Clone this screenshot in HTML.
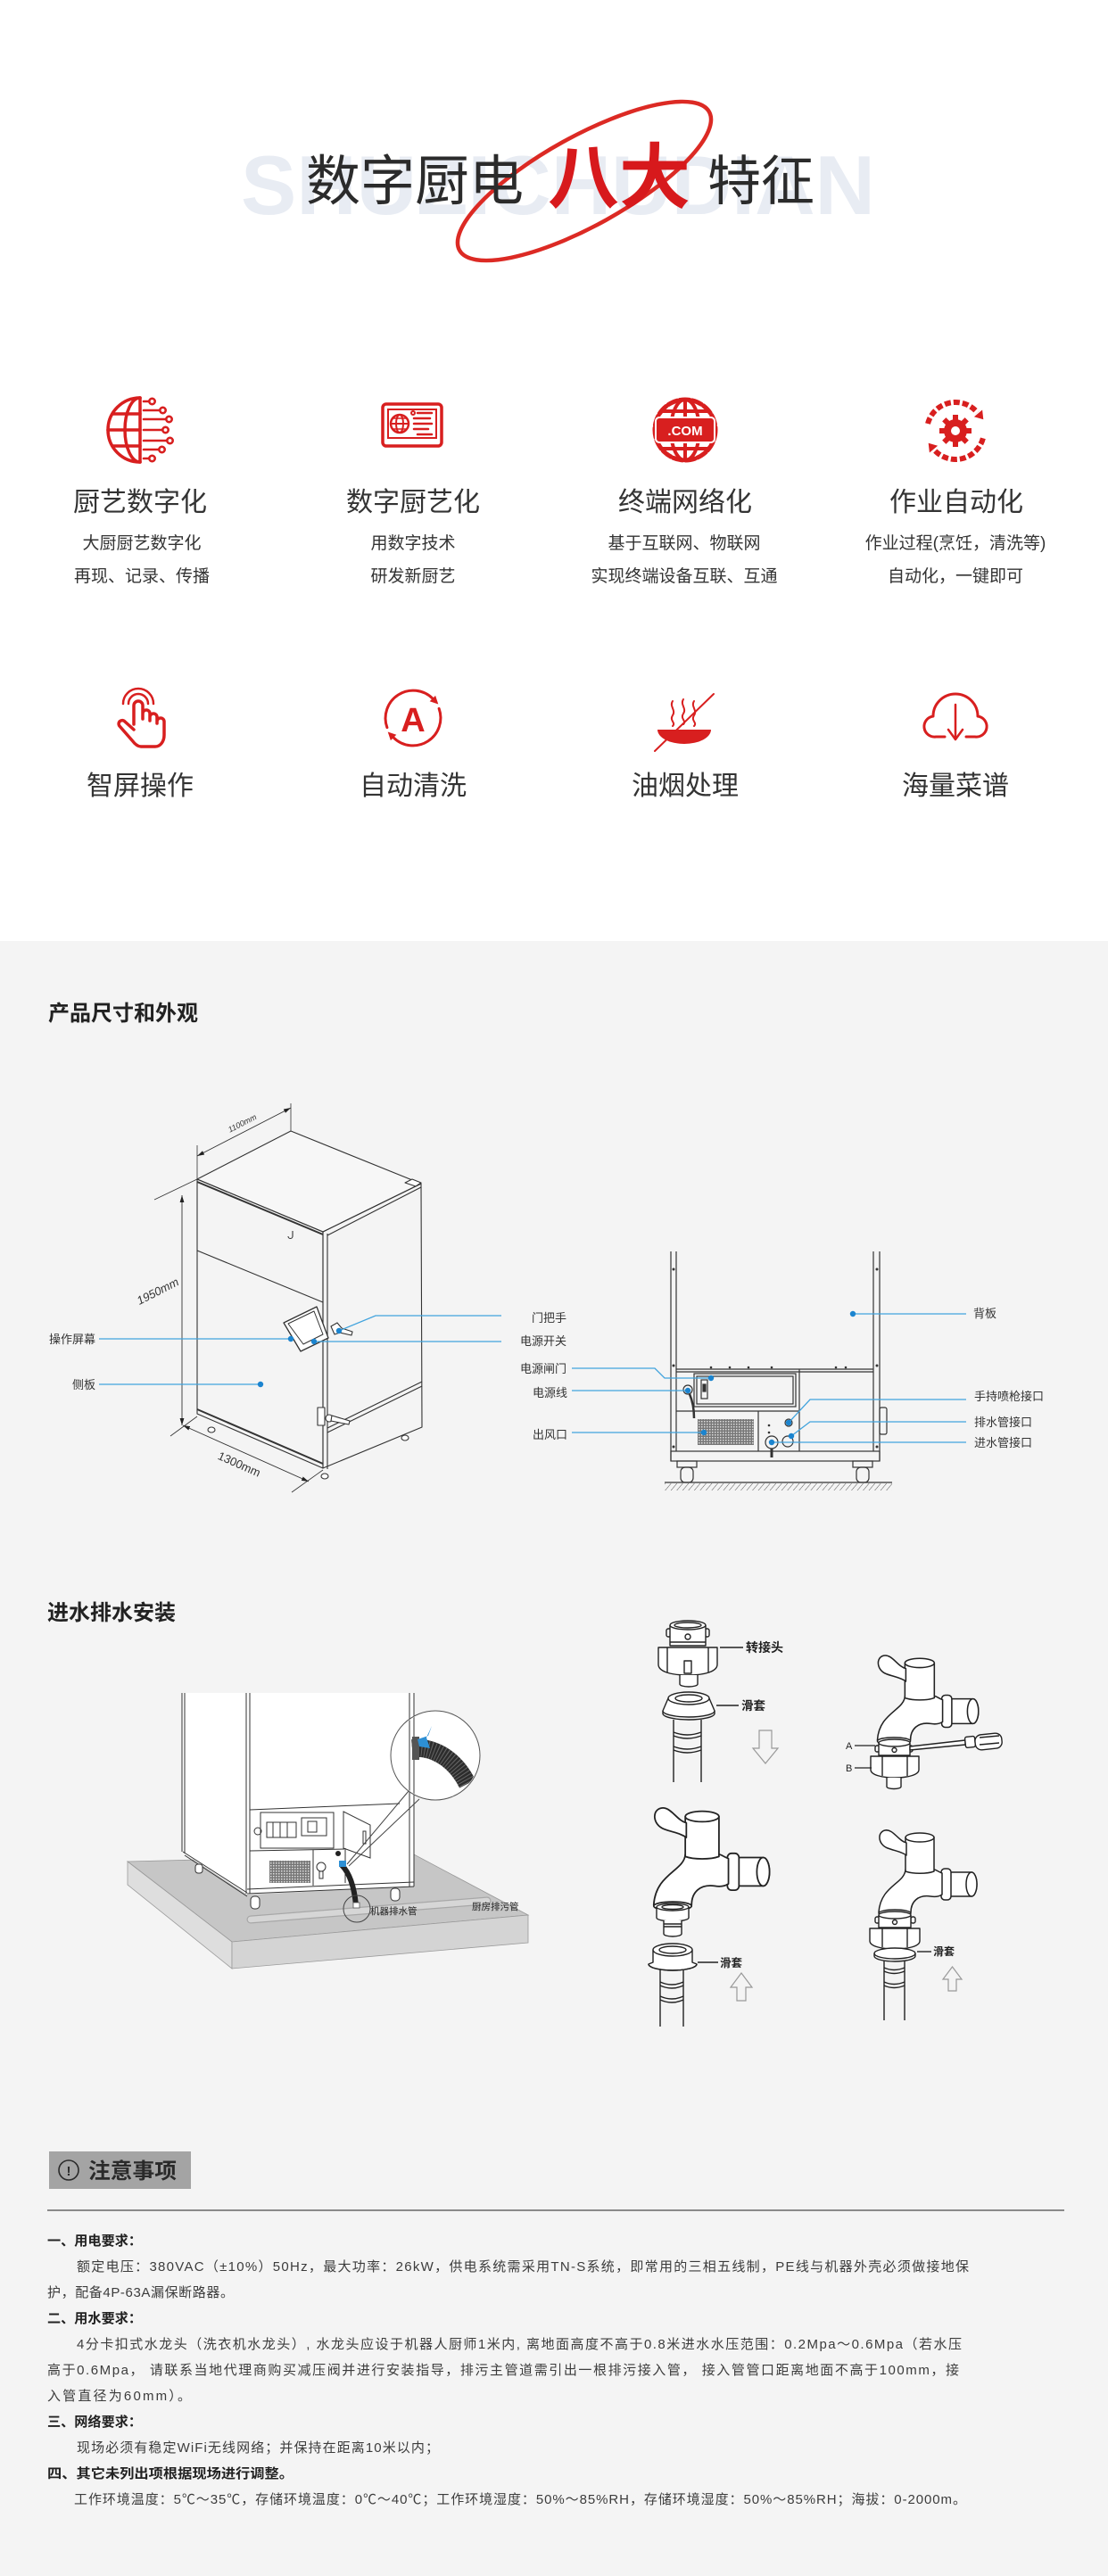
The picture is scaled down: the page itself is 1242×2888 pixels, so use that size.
<!DOCTYPE html>
<html><head><meta charset="utf-8">
<style>
html,body{margin:0;padding:0;}
body{width:1242px;height:2888px;position:relative;overflow:hidden;background:#f4f4f4;}
svg{position:absolute;left:0;top:0;display:block;}
</style></head><body>
<svg width="1242" height="2888" viewBox="0 0 1242 2888" font-family="'Liberation Sans','Noto Sans CJK SC',sans-serif">
<defs>
<marker id="ar" viewBox="0 0 10 10" refX="10" refY="5" markerWidth="8" markerHeight="8" orient="auto-start-reverse" markerUnits="userSpaceOnUse"><path d="M0,2 L10,5 L0,8 Z" fill="#222"/></marker>
<pattern id="hatch" width="5" height="5" patternUnits="userSpaceOnUse" patternTransform="rotate(40)"><line x1="0" y1="0" x2="0" y2="5" stroke="#555" stroke-width="1"/></pattern>
<pattern id="grid" width="3" height="3" patternUnits="userSpaceOnUse"><rect width="3" height="3" fill="#777"/><rect width="1.5" height="1.5" fill="#ddd"/></pattern>
<clipPath id="cc"><circle cx="488" cy="1968" r="49"/></clipPath>
<g id="fau" fill="#fff" stroke="#222" stroke-width="1.5" stroke-linejoin="round" stroke-linecap="round">
  <path d="M62,-47 H86 A6,13.5 0 0 1 86,-20 H62 Z"/>
  <ellipse cx="86" cy="-33.5" rx="6" ry="13.5"/>
  <rect x="52" y="-51" width="11" height="35" rx="4"/>
  <path d="M12,-50 C11,-34 -16,-32 -18,-2 L18,-2 C18,-14 26,-22 40,-20 C46,-19 50,-20 53,-22 L53,-46 C48,-48 46,-50 44,-50 Z"/>
  <path d="M12,-86 V-48 C20,-45 36,-45 44,-48 V-86 Z"/>
  <ellipse cx="28" cy="-86" rx="16" ry="5"/>
  <path d="M13,-80 C4,-82 -2,-96 -11,-94 C-20,-92 -19,-78 -8,-74 C0,-71 8,-70 13,-66 Z"/>
  <ellipse cx="0" cy="-1" rx="18" ry="4"/>
</g>
</defs>

<!-- backgrounds -->
<rect x="0" y="0" width="1242" height="1055" fill="#ffffff"/>
<rect x="0" y="1055" width="1242" height="1833" fill="#f4f4f4"/>

<!-- ===== TITLE ===== -->
<text x="270" y="240" font-family="'Liberation Sans',sans-serif" font-weight="bold" font-size="94" fill="#e8ecf3" textLength="711" lengthAdjust="spacingAndGlyphs">SHUZICHUDIAN</text>
<ellipse cx="655" cy="203" rx="160" ry="50" transform="rotate(-29 655 203)" fill="none" stroke="#dc2a24" stroke-width="4.5"/>
<text x="343" y="224" font-size="61" fill="#2b2b2b">数字厨电</text>
<text x="614" y="227" font-size="80" font-weight="bold" fill="#d7191c">八大</text>
<text x="793" y="224" font-size="60" fill="#2b2b2b">特征</text>

<!-- ===== ICON ROW 1 ===== -->
<g stroke="#d81f1f" fill="none" stroke-width="3.5" stroke-linecap="round">
  <!-- icon1 -->
  <path d="M157,446 A36,36 0 0 0 157,518"/>
  <path d="M157,446 A17,36 0 0 0 157,518"/>
  <line x1="157" y1="446" x2="157" y2="518"/>
  <line x1="127" y1="464" x2="157" y2="464"/>
  <line x1="121" y1="482" x2="157" y2="482"/>
  <line x1="127" y1="500" x2="157" y2="500"/>
  <g stroke-width="2.6">
    <line x1="161" y1="450" x2="167" y2="450"/><circle cx="170.5" cy="450" r="3.2"/>
    <line x1="161" y1="460" x2="179" y2="460"/><circle cx="182.5" cy="460" r="3.2"/>
    <line x1="161" y1="470" x2="186" y2="470"/><circle cx="189.5" cy="470" r="3.2"/>
    <line x1="161" y1="482" x2="182" y2="482"/><circle cx="185.5" cy="482" r="3.2"/>
    <line x1="161" y1="494" x2="187" y2="494"/><circle cx="190.5" cy="494" r="3.2"/>
    <line x1="161" y1="504" x2="178" y2="504"/><circle cx="181.5" cy="504" r="3.2"/>
    <line x1="161" y1="514" x2="167" y2="514"/><circle cx="170.5" cy="514" r="3.2"/>
  </g>
  <!-- icon2 monitor -->
  <rect x="429" y="453" width="66" height="47" rx="4"/>
  <rect x="435" y="459" width="54" height="32" stroke-width="2"/>
  <circle cx="448" cy="475" r="10" stroke-width="2.5"/>
  <ellipse cx="448" cy="475" rx="4" ry="10" stroke-width="2"/>
  <line x1="438" y1="475" x2="458" y2="475" stroke-width="2"/>
  <line x1="440" y1="469" x2="456" y2="469" stroke-width="1.6"/>
  <line x1="440" y1="481" x2="456" y2="481" stroke-width="1.6"/>
  <circle cx="463" cy="463" r="2" stroke-width="2"/>
  <g stroke-width="2.5"><line x1="468" y1="463" x2="484" y2="463"/><line x1="464" y1="469" x2="482" y2="469"/><line x1="464" y1="475" x2="484" y2="475"/><line x1="464" y1="481" x2="480" y2="481"/><line x1="468" y1="487" x2="484" y2="487"/></g>
  <!-- icon3 globe -->
  <circle cx="768" cy="482" r="34" stroke-width="5" stroke-dasharray="11 3"/>
  <ellipse cx="768" cy="482" rx="16" ry="34" stroke-width="4"/>
  <line x1="768" y1="448" x2="768" y2="516" stroke-width="4"/>
  <line x1="741" y1="461" x2="795" y2="461" stroke-width="4"/>
  <line x1="741" y1="503" x2="795" y2="503" stroke-width="4"/>
  <!-- icon4 arrows -->
  <path d="M1040,475 A32,32 0 0 1 1095.5,462.4" stroke-width="6" stroke-dasharray="7 3" stroke-linecap="butt"/>
  <path d="M1101.9,491.3 A32,32 0 0 1 1046.5,503.6" stroke-width="6" stroke-dasharray="7 3" stroke-linecap="butt"/>
</g>
<rect x="735" y="468" width="66" height="28" rx="4" fill="#d81f1f" stroke="#fff" stroke-width="2"/>
<text x="768" y="488" text-anchor="middle" fill="#fff" font-weight="bold" font-size="15" font-family="'Liberation Sans',sans-serif">.COM</text>
<polygon points="1101.3,469.3 1100.1,458.5 1090.9,466.3" fill="#d81f1f" transform="translate(1,1) scale(1)"/>
<polygon points="1040.7,496.7 1051.1,499.7 1041.9,507.5" fill="#d81f1f"/>
<g fill="#d81f1f">
  <circle cx="1071" cy="483" r="13"/>
  <rect x="1068" y="465" width="6" height="8"/>
  <rect x="1068" y="493" width="6" height="8"/>
  <rect x="1053" y="480" width="8" height="6"/>
  <rect x="1081" y="480" width="8" height="6"/>
  <rect x="1068" y="465" width="6" height="8" transform="rotate(45 1071 483)"/>
  <rect x="1068" y="465" width="6" height="8" transform="rotate(135 1071 483)"/>
  <rect x="1068" y="465" width="6" height="8" transform="rotate(225 1071 483)"/>
  <rect x="1068" y="465" width="6" height="8" transform="rotate(315 1071 483)"/>
  <circle cx="1071" cy="483" r="5" fill="#fff"/>
</g>

<g fill="#333" text-anchor="middle">
  <text x="157" y="573" font-size="30">厨艺数字化</text>
  <text x="463" y="573" font-size="30">数字厨艺化</text>
  <text x="768" y="573" font-size="30">终端网络化</text>
  <text x="1072" y="573" font-size="30">作业自动化</text>
  <text x="159" y="615" font-size="19">大厨厨艺数字化</text>
  <text x="159" y="652" font-size="19">再现、记录、传播</text>
  <text x="463" y="615" font-size="19">用数字技术</text>
  <text x="463" y="652" font-size="19">研发新厨艺</text>
  <text x="767" y="615" font-size="19">基于互联网、物联网</text>
  <text x="767" y="652" font-size="19">实现终端设备互联、互通</text>
  <text x="1071" y="615" font-size="19">作业过程(烹饪，清洗等)</text>
  <text x="1071" y="652" font-size="19">自动化，一键即可</text>
</g>

<!-- ===== ICON ROW 2 ===== -->
<g stroke="#d81f1f" fill="none" stroke-width="3.5" stroke-linecap="round" stroke-linejoin="round">
  <!-- hand -->
  <path d="M150,812 V791 A5,5 0 0 1 160,791 V806 M160,804 V800 A4,4 0 0 1 168,800 V808 M168,806 V804 A4,4 0 0 1 176,804 V811 M176,810 V809 A4,4 0 0 1 184,809 V824 C184,831 180,837 174,837 H158 C154,837 151,834 148,830 L134,814 A3.5,3.5 0 0 1 140,809 L150,818"/>
  <path d="M144,789 A11,11 0 0 1 166,789" stroke-width="2.5"/>
  <path d="M138,789 A17,17 0 0 1 172,789" stroke-width="2.5"/>
  <!-- A circle -->
  <path d="M433.9,815.6 A31,31 0 0 1 484.9,783.1" stroke-width="3"/>
  <path d="M492.1,794.4 A31,31 0 0 1 441.1,826.9" stroke-width="3"/>
  <!-- steam -->
  <path d="M754,786 c-4,6 4,10 0,16 c-4,6 4,8 0,12" stroke-width="2"/>
  <path d="M766,784 c-4,6 4,10 0,16 c-4,6 4,8 0,12" stroke-width="2"/>
  <path d="M778,786 c-4,6 4,10 0,16 c-4,6 4,8 0,12" stroke-width="2"/>
  <line x1="800" y1="778" x2="734" y2="842" stroke-width="2"/>
  <!-- cloud -->
  <path d="M1059,826 H1049 A11.5,11.5 0 0 1 1046,803 A25,25 0 0 1 1096,803 A11.5,11.5 0 0 1 1093,826 H1083" stroke-width="3"/>
  <line x1="1071" y1="790" x2="1071" y2="828" stroke-width="2.5"/>
  <path d="M1063,818 L1071,829 L1079,818" stroke-width="2.5"/>
</g>
<polygon points="491.3,789.5 488.1,779.9 481.7,786.3" fill="#d81f1f"/>
<polygon points="434.7,820.5 444.3,823.7 437.9,830.1" fill="#d81f1f"/>
<text x="463" y="820" text-anchor="middle" font-size="38" font-weight="bold" fill="#d81f1f" font-family="'Liberation Sans',sans-serif">A</text>
<path d="M737,818 H797 A30,16 0 0 1 737,818 Z" fill="#d81f1f"/>

<g fill="#333" text-anchor="middle" font-size="30">
  <text x="157" y="891">智屏操作</text>
  <text x="463" y="891">自动清洗</text>
  <text x="768" y="891">油烟处理</text>
  <text x="1071" y="891">海量菜谱</text>
</g>

<!-- ===== SECTION 2 ===== -->
<text x="54" y="1144" font-size="24" font-weight="bold" fill="#222">产品尺寸和外观</text>

<!-- left product drawing -->
<g fill="none" stroke="#333" stroke-width="1.1" stroke-linejoin="round">
  <polygon points="221,1322 326,1268 472,1327 362,1381" fill="#f7f7f7"/>
  <polygon points="221,1322 362,1381 362,1646 221,1585"/>
  <polygon points="362,1381 472,1327 473,1600 362,1646"/>
  <line x1="221" y1="1325" x2="362" y2="1384" stroke-width="2"/>
  <line x1="221" y1="1402" x2="362" y2="1460"/>
  <line x1="367" y1="1383" x2="367" y2="1647"/>
  <line x1="367" y1="1385" x2="472" y2="1331"/>
  <line x1="367" y1="1601" x2="473" y2="1549"/>
  <line x1="367" y1="1606" x2="473" y2="1554"/>
  <line x1="221" y1="1580" x2="362" y2="1641" stroke-width="2"/>
  <path d="M454,1326 l8,-4 l10,4 l-6,4 z" fill="#fff"/>
  <path d="M328,1380 v6 a2.5,2.5 0 0 1 -5,0"/>
  <!-- screen -->
  <polygon points="318,1483 355,1465 368,1500 337,1515" fill="#fff" stroke-width="1.3"/>
  <polygon points="323,1484 352,1470 362,1496 340,1507" fill="#fff" stroke-width="1"/>
  <!-- handle -->
  <path d="M371,1487 l7,-4 l5,6 l12,4 l-1,4 l-13,-3 l-6,2 z" fill="#fff"/>
  <!-- lower lock -->
  <rect x="356" y="1578" width="8" height="20" fill="#fff"/>
  <circle cx="369" cy="1590" r="4" fill="#fff"/>
  <path d="M372,1587 L392,1593 L391,1597 L371,1593 Z" fill="#fff"/>
  <ellipse cx="237" cy="1603" rx="4" ry="3" fill="#fff"/>
  <ellipse cx="454" cy="1612" rx="4" ry="3" fill="#fff"/>
  <ellipse cx="364" cy="1655" rx="4" ry="3" fill="#fff"/>
  <!-- extension lines -->
  <g stroke-width="0.8">
    <line x1="221" y1="1284" x2="221" y2="1322"/>
    <line x1="326" y1="1237" x2="326" y2="1268"/>
    <line x1="173" y1="1345" x2="221" y2="1322"/>
    <line x1="191" y1="1610" x2="221" y2="1588"/>
    <line x1="327" y1="1673" x2="362" y2="1648"/>
  </g>
  <!-- dimension lines -->
  <line x1="221" y1="1296" x2="326" y2="1242" stroke-width="0.9" marker-start="url(#ar)" marker-end="url(#ar)"/>
  <line x1="204" y1="1340" x2="204" y2="1598" stroke-width="0.9" marker-start="url(#ar)" marker-end="url(#ar)"/>
  <line x1="205" y1="1598" x2="346" y2="1661" stroke-width="0.9" marker-start="url(#ar)" marker-end="url(#ar)"/>
</g>
<text x="273" y="1262" font-size="9" font-style="italic" fill="#333" text-anchor="middle" transform="rotate(-27 273 1262)">1100mm</text>
<text x="177" y="1452" font-size="13" font-style="italic" fill="#333" text-anchor="middle" transform="rotate(-27 177 1448)">1950mm</text>
<text x="268" y="1646" font-size="13" fill="#333" text-anchor="middle" transform="rotate(24 268 1642)">1300mm</text>

<!-- leaders left -->
<g stroke="#41a3dd" stroke-width="1.3" fill="none">
  <line x1="111" y1="1501" x2="326" y2="1501"/>
  <line x1="111" y1="1552" x2="292" y2="1552"/>
  <polyline points="380,1492 421,1475 562,1475"/>
  <line x1="352" y1="1504" x2="562" y2="1504"/>
</g>
<g fill="#1b84cf">
  <circle cx="326" cy="1501" r="3.2"/><circle cx="292" cy="1552" r="3.2"/>
  <circle cx="380" cy="1492" r="3.2"/><circle cx="352" cy="1504" r="3.2"/>
</g>
<g font-size="13" fill="#333">
  <text x="107" y="1506" text-anchor="end">操作屏幕</text>
  <text x="107" y="1557" text-anchor="end">侧板</text>
  <text x="635" y="1482" text-anchor="end">门把手</text>
  <text x="635" y="1508" text-anchor="end">电源开关</text>
  <text x="635" y="1539" text-anchor="end">电源闸门</text>
  <text x="636" y="1566" text-anchor="end">电源线</text>
  <text x="636" y="1613" text-anchor="end">出风口</text>
  <text x="1091" y="1477">背板</text>
  <text x="1092" y="1570">手持喷枪接口</text>
  <text x="1092" y="1599">排水管接口</text>
  <text x="1092" y="1622">进水管接口</text>
</g>

<!-- right machine drawing -->
<g fill="none" stroke="#333" stroke-width="1.2">
  <line x1="752" y1="1403" x2="752" y2="1638"/><line x1="758" y1="1403" x2="758" y2="1627"/>
  <line x1="979" y1="1403" x2="979" y2="1627"/><line x1="986" y1="1403" x2="986" y2="1638"/>
  <line x1="758" y1="1535" x2="979" y2="1535"/><line x1="758" y1="1538" x2="979" y2="1538"/>
  <rect x="778" y="1540" width="114" height="37"/><rect x="781" y="1543" width="108" height="31"/>
  <line x1="758" y1="1582" x2="896" y2="1582"/>
  <line x1="896" y1="1535" x2="896" y2="1627"/><line x1="850" y1="1582" x2="850" y2="1627"/>
  <rect x="752" y="1627" width="234" height="11"/>
  <rect x="986" y="1578" width="8" height="30" rx="2"/>
  <rect x="786" y="1547" width="7" height="21"/>
  <rect x="788" y="1552" width="3" height="8" fill="#333"/>
  <circle cx="771" cy="1558" r="5"/>
  <path d="M773,1563 C776,1570 778,1578 778,1590" stroke-width="2.5"/>
  <circle cx="884" cy="1595" r="4"/>
  <circle cx="883" cy="1616" r="6"/>
  <circle cx="865" cy="1617" r="7"/>
  <line x1="865" y1="1624" x2="865" y2="1634" stroke-width="3"/>
  <!-- casters -->
  <rect x="759" y="1638" width="22" height="7"/>
  <rect x="763" y="1645" width="14" height="17" rx="5"/>
  <rect x="956" y="1638" width="22" height="7"/>
  <rect x="960" y="1645" width="14" height="17" rx="5"/>
  <line x1="745" y1="1662" x2="1000" y2="1662"/>
</g>
<rect x="782" y="1591" width="63" height="29" fill="url(#grid)"/>
<rect x="745" y="1663" width="255" height="8" fill="url(#hatch)"/>
<g fill="#333">
  <circle cx="755" cy="1423" r="1.5"/><circle cx="983" cy="1423" r="1.5"/>
  <circle cx="755" cy="1531" r="1.5"/><circle cx="983" cy="1531" r="1.5"/>
  <circle cx="797" cy="1533" r="1.3"/><circle cx="818" cy="1533" r="1.3"/><circle cx="839" cy="1533" r="1.3"/><circle cx="865" cy="1533" r="1.3"/><circle cx="937" cy="1533" r="1.3"/><circle cx="948" cy="1533" r="1.3"/>
  <circle cx="862" cy="1598" r="1.3"/><circle cx="862" cy="1606" r="1.3"/>
  <circle cx="755" cy="1622" r="1.5"/><circle cx="983" cy="1622" r="1.5"/>
</g>
<g stroke="#41a3dd" stroke-width="1.3" fill="none">
  <polyline points="641,1534 734,1534 745,1545 797,1545"/>
  <line x1="641" y1="1559" x2="771" y2="1559"/>
  <line x1="641" y1="1606" x2="789" y2="1606"/>
  <line x1="956" y1="1473" x2="1083" y2="1473"/>
  <polyline points="1083,1569 908,1569 884,1595"/>
  <polyline points="1083,1594 908,1594 887,1610"/>
  <line x1="1083" y1="1617" x2="865" y2="1617"/>
</g>
<g fill="#1b84cf">
  <circle cx="797" cy="1545" r="3.2"/><circle cx="771" cy="1559" r="3.2"/><circle cx="789" cy="1606" r="3.2"/>
  <circle cx="956" cy="1473" r="3.2"/><circle cx="884" cy="1595" r="3.2"/><circle cx="887" cy="1610" r="3.2"/><circle cx="865" cy="1617" r="3.2"/>
</g>

<!-- ===== SECTION 3 ===== -->
<text x="53" y="1816" font-size="24" font-weight="bold" fill="#222">进水排水安装</text>

<!-- slab -->
<polygon points="143,2087 464,2079 592,2147 260,2177" fill="#c6c6c6" stroke="#9a9a9a" stroke-width="0.8"/>
<polygon points="143,2087 260,2177 260,2207 143,2113" fill="#dedede" stroke="#9a9a9a" stroke-width="0.8"/>
<polygon points="260,2177 592,2147 592,2178 260,2207" fill="#d4d4d4" stroke="#9a9a9a" stroke-width="0.8"/>
<!-- drain pipe -->
<line x1="281" y1="2152" x2="546" y2="2131" stroke="#a8a8a8" stroke-width="9" stroke-linecap="round"/>
<line x1="281" y1="2152" x2="546" y2="2131" stroke="#d6d6d6" stroke-width="6.5" stroke-linecap="round"/>

<!-- water cabinet -->
<polygon points="204,1898 464,1898 464,2115 277,2124 205,2077" fill="#fff"/>
<g stroke="#333" stroke-width="1" fill="none">
  <line x1="204" y1="1898" x2="204" y2="2076"/><line x1="207" y1="1898" x2="207" y2="2078"/>
  <line x1="276" y1="1898" x2="276" y2="2123"/><line x1="280" y1="1898" x2="280" y2="2123"/>
  <line x1="459" y1="1898" x2="459" y2="2115"/><line x1="464" y1="1898" x2="464" y2="2115"/>
  <line x1="205" y1="2076" x2="277" y2="2122"/><line x1="207" y1="2080" x2="277" y2="2126"/>
  <line x1="277" y1="2118" x2="464" y2="2110"/><line x1="277" y1="2123" x2="464" y2="2115"/>
  <line x1="280" y1="2029" x2="448" y2="2022"/>
  <rect x="292" y="2032" width="82" height="40"/>
  <rect x="299" y="2043" width="33" height="17"/>
  <line x1="306" y1="2043" x2="306" y2="2060"/><line x1="314" y1="2043" x2="314" y2="2060"/><line x1="322" y1="2043" x2="322" y2="2060"/>
  <rect x="338" y="2038" width="28" height="20"/>
  <rect x="345" y="2042" width="10" height="12"/>
  <circle cx="289" cy="2053" r="4"/>
  <polygon points="385,2031 415,2046 415,2083 385,2072" fill="#fff"/>
  <rect x="407" y="2053" width="3" height="14"/>
  <line x1="280" y1="2075" x2="386" y2="2073"/>
  <line x1="351" y1="2074" x2="351" y2="2114"/>
  <line x1="387" y1="2072" x2="387" y2="2111"/>
  <circle cx="360" cy="2093" r="5"/>
  <rect x="358" y="2098" width="4" height="8"/>
  <!-- wheels -->
  <rect x="219" y="2090" width="8" height="10" rx="3" fill="#fff"/>
  <rect x="281" y="2126" width="10" height="14" rx="4" fill="#fff"/>
  <rect x="438" y="2117" width="10" height="14" rx="4" fill="#fff"/>
</g>
<rect x="302" y="2086" width="46" height="25" fill="url(#grid)"/>
<circle cx="379" cy="2078" r="3" fill="#222"/>
<path d="M383,2091 C392,2100 397,2115 399,2136" stroke="#222" stroke-width="6" fill="none"/>
<rect x="380" y="2086" width="8" height="7" fill="#2d8fd4"/>
<rect x="396" y="2133" width="7" height="6" fill="#fff" stroke="#555" stroke-width="0.8"/>
<!-- callout -->
<line x1="458" y1="2008" x2="389" y2="2090" stroke="#444" stroke-width="1"/>
<line x1="470" y1="2017" x2="391" y2="2092" stroke="#444" stroke-width="1"/>
<circle cx="488" cy="1968" r="50" fill="#fff" stroke="#555" stroke-width="1"/>
<g clip-path="url(#cc)">
  <line x1="459" y1="1900" x2="459" y2="2030" stroke="#333" stroke-width="1"/>
  <line x1="464" y1="1900" x2="464" y2="2030" stroke="#333" stroke-width="1"/>
  <path d="M462,1960 C482,1958 508,1968 524,2000" stroke="#2c2c2c" stroke-width="20" fill="none"/>
  <path d="M462,1960 C482,1958 508,1968 524,2000" stroke="#666" stroke-width="20" fill="none" stroke-dasharray="1 2.5"/>
  <rect x="462" y="1947" width="8" height="26" fill="#555"/>
  <path d="M468,1950 L480,1946 L484,1935 L478,1948 L482,1960 L470,1958 Z" fill="#2d8fd4"/>
</g>
<circle cx="400" cy="2140" r="15" fill="none" stroke="#444" stroke-width="1"/>
<text x="415" y="2146" font-size="10.5" fill="#222">机器排水管</text>
<text x="529" y="2141" font-size="10.5" fill="#222">厨房排污管</text>

<!-- ===== FAUCETS ===== -->
<!-- top-left adapter -->
<g fill="#fff" stroke="#222" stroke-width="1.4" stroke-linejoin="round">
  <rect x="747" y="1826" width="5" height="9" rx="2"/><rect x="790" y="1826" width="5" height="9" rx="2"/>
  <path d="M751,1822 V1845 H791 V1822"/>
  <ellipse cx="771" cy="1822" rx="20" ry="5"/>
  <ellipse cx="771" cy="1822" rx="15" ry="3"/>
  <circle cx="771" cy="1835" r="3"/>
  <line x1="751" y1="1841" x2="791" y2="1841"/>
  <path d="M738,1847 H804 V1866 C804,1874 790,1878 771,1878 C752,1878 738,1874 738,1866 Z"/>
  <line x1="748" y1="1847" x2="748" y2="1875"/><line x1="794" y1="1847" x2="794" y2="1875"/>
  <rect x="767" y="1862" width="8" height="14"/>
  <path d="M762,1878 V1888 A10,3 0 0 0 782,1888 V1878"/>
  <!-- slide ring -->
  <path d="M749,1904 L743,1918 A29,7 0 0 0 801,1918 L795,1904 Z"/>
  <ellipse cx="772" cy="1904" rx="23" ry="7"/>
  <ellipse cx="772" cy="1904" rx="15" ry="4"/>
  <path d="M743,1918 V1921 A29,7 0 0 0 801,1921 V1918" fill="none"/>
</g>
<g stroke="#222" stroke-width="1.4" fill="none">
  <line x1="755" y1="1928" x2="755" y2="1998"/><line x1="786" y1="1928" x2="786" y2="1998"/>
  <path d="M755,1942 Q770,1948 786,1942 M755,1946 Q770,1952 786,1946 M755,1958 Q770,1964 786,1958 M755,1962 Q770,1968 786,1962"/>
  <line x1="807" y1="1847" x2="833" y2="1847"/>
  <line x1="803" y1="1912" x2="828" y2="1912"/>
</g>
<polygon points="851,1940 865,1940 865,1960 872,1960 858,1977 844,1960 851,1960" fill="none" stroke="#999" stroke-width="1.2"/>
<text x="836" y="1852" font-size="14" font-weight="bold" fill="#222">转接头</text>
<text x="831" y="1917" font-size="13.5" font-weight="bold" fill="#222">滑套</text>

<!-- top-right faucet -->
<use href="#fau" transform="translate(1002,1953) scale(1.03)"/>
<g fill="#fff" stroke="#222" stroke-width="1.4" stroke-linejoin="round">
  <rect x="981" y="1957" width="5" height="7" rx="2"/><rect x="1018" y="1957" width="5" height="7" rx="2"/>
  <path d="M985,1954 V1968 H1020 V1954"/>
  <ellipse cx="1002.5" cy="1954" rx="17.5" ry="4"/>
  <circle cx="1002.5" cy="1962" r="2.5"/>
  <path d="M976,1969 H1030 V1984 C1030,1990 1017,1993 1003,1993 C989,1993 976,1990 976,1984 Z"/>
  <line x1="989" y1="1969" x2="989" y2="1991"/><line x1="1017" y1="1969" x2="1017" y2="1991"/>
  <path d="M994,1993 V2003 A8,2.5 0 0 0 1010,2003 V1993"/>
  <path d="M1020,1958 L1082,1951 L1082,1956 L1020,1962 Z"/>
  <rect x="1082" y="1947" width="11" height="12" rx="2" transform="rotate(-6 1087 1953)"/>
  <rect x="1093" y="1944" width="30" height="17" rx="7" transform="rotate(-6 1108 1952)"/>
  <line x1="1098" y1="1948" x2="1120" y2="1946" />
  <line x1="1098" y1="1956" x2="1120" y2="1954" />
</g>
<g stroke="#222" stroke-width="1.2"><line x1="958" y1="1957" x2="981" y2="1957"/><line x1="958" y1="1982" x2="977" y2="1982"/></g>
<text x="948" y="1961" font-size="11" fill="#222">A</text>
<text x="948" y="1986" font-size="11" fill="#222">B</text>

<!-- bottom-left faucet -->
<use href="#fau" transform="translate(754,2138) scale(1.18)"/>
<g fill="#fff" stroke="#222" stroke-width="1.4" stroke-linejoin="round">
  <path d="M736,2138 V2150 A18,4 0 0 0 772,2150 V2138"/>
  <ellipse cx="754" cy="2138" rx="18" ry="4"/>
  <ellipse cx="754" cy="2138" rx="12" ry="2.5"/>
  <path d="M744,2153 V2168 A10,3 0 0 0 764,2168 V2153"/>
  <line x1="744" y1="2157" x2="764" y2="2157"/><line x1="744" y1="2160" x2="764" y2="2160"/>
  <path d="M732,2186 V2200 L727,2202 A27,7 0 0 0 781,2202 L776,2200 V2186 Z"/>
  <ellipse cx="754" cy="2186" rx="22" ry="7"/>
  <ellipse cx="754" cy="2186" rx="15" ry="4"/>
  <path d="M727,2202 A27,7 0 0 0 781,2202" fill="none"/>
</g>
<g stroke="#222" stroke-width="1.4" fill="none">
  <line x1="740" y1="2208" x2="740" y2="2272"/><line x1="766" y1="2208" x2="766" y2="2272"/>
  <path d="M740,2222 Q753,2228 766,2222 M740,2226 Q753,2232 766,2226 M740,2238 Q753,2244 766,2238 M740,2242 Q753,2248 766,2242"/>
  <line x1="782" y1="2200" x2="805" y2="2200"/>
</g>
<polygon points="831,2212 843,2228 836,2228 836,2243 826,2243 826,2228 819,2228" fill="none" stroke="#999" stroke-width="1.2"/>
<text x="807" y="2205" font-size="12.5" font-weight="bold" fill="#222">滑套</text>

<!-- bottom-right faucet -->
<use href="#fau" transform="translate(1003,2146)"/>
<g fill="#fff" stroke="#222" stroke-width="1.4" stroke-linejoin="round">
  <rect x="981" y="2149" width="5" height="7" rx="2"/><rect x="1021" y="2149" width="5" height="7" rx="2"/>
  <path d="M985,2147 V2161 H1021 V2147"/>
  <ellipse cx="1003" cy="2147" rx="18" ry="4"/>
  <circle cx="1003" cy="2155" r="2.5"/>
  <path d="M975,2162 H1031 V2176 C1031,2182 1018,2185 1003,2185 C988,2185 975,2182 975,2176 Z"/>
  <line x1="989" y1="2162" x2="989" y2="2183"/><line x1="1017" y1="2162" x2="1017" y2="2183"/>
  <ellipse cx="1003" cy="2190" rx="23" ry="6"/>
  <path d="M980,2190 V2193 A23,6 0 0 0 1026,2193 V2190" fill="none"/>
</g>
<g stroke="#222" stroke-width="1.4" fill="none">
  <line x1="991" y1="2198" x2="991" y2="2265"/><line x1="1014" y1="2198" x2="1014" y2="2265"/>
  <path d="M991,2206 Q1002,2211 1014,2206 M991,2210 Q1002,2215 1014,2210 M991,2222 Q1002,2227 1014,2222 M991,2226 Q1002,2231 1014,2226"/>
  <line x1="1028" y1="2188" x2="1044" y2="2188"/>
</g>
<polygon points="1067.5,2205 1078,2219 1072,2219 1072,2232 1063,2232 1063,2219 1057,2219" fill="none" stroke="#999" stroke-width="1.2"/>
<text x="1046" y="2192" font-size="12" font-weight="bold" fill="#222">滑套</text>

<!-- ===== NOTES ===== -->
<rect x="55" y="2412" width="159" height="42" fill="#a4a4a4"/>
<circle cx="77" cy="2433" r="11" fill="none" stroke="#2a2a2a" stroke-width="1.6"/>
<text x="77" y="2439" font-size="15" font-weight="bold" fill="#2a2a2a" text-anchor="middle" font-family="'Liberation Sans',sans-serif">!</text>
<text x="99" y="2442" font-size="24" font-weight="bold" fill="#2a2a2a" textLength="99" lengthAdjust="spacingAndGlyphs">注意事项</text>
<line x1="53" y1="2478" x2="1193" y2="2478" stroke="#8a8a8a" stroke-width="2"/>

<g font-size="15" fill="#3c3c3c">
  <text x="53" y="2517" font-weight="bold" fill="#222" textLength="106" lengthAdjust="spacingAndGlyphs">一、用电要求：</text>
  <text x="86" y="2546" textLength="1000" lengthAdjust="spacing">额定电压：380VAC（±10%）50Hz，最大功率：26kW，供电系统需采用TN-S系统，即常用的三相五线制，PE线与机器外壳必须做接地保</text>
  <text x="53" y="2575" textLength="209" lengthAdjust="spacing">护，配备4P-63A漏保断路器。</text>
  <text x="53" y="2604" font-weight="bold" fill="#222" textLength="106" lengthAdjust="spacingAndGlyphs">二、用水要求：</text>
  <text x="86" y="2633" textLength="992" lengthAdjust="spacing">4分卡扣式水龙头（洗衣机水龙头）, 水龙头应设于机器人厨师1米内, 离地面高度不高于0.8米进水水压范围：0.2Mpa～0.6Mpa（若水压</text>
  <text x="53" y="2662" textLength="1022" lengthAdjust="spacing">高于0.6Mpa， 请联系当地代理商购买减压阀并进行安装指导，排污主管道需引出一根排污接入管， 接入管管口距离地面不高于100mm，接</text>
  <text x="53" y="2691" textLength="161" lengthAdjust="spacing">入管直径为60mm）。</text>
  <text x="53" y="2720" font-weight="bold" fill="#222" textLength="106" lengthAdjust="spacingAndGlyphs">三、网络要求：</text>
  <text x="86" y="2749" textLength="406" lengthAdjust="spacing">现场必须有稳定WiFi无线网络；并保持在距离10米以内；</text>
  <text x="53" y="2778" font-weight="bold" fill="#222" textLength="276" lengthAdjust="spacingAndGlyphs">四、其它未列出项根据现场进行调整。</text>
  <text x="83" y="2807" textLength="1000" lengthAdjust="spacing">工作环境温度：5℃～35℃，存储环境温度：0℃～40℃；工作环境湿度：50%～85%RH，存储环境湿度：50%～85%RH；海拔：0-2000m。</text>
</g>
</svg>
</body></html>
